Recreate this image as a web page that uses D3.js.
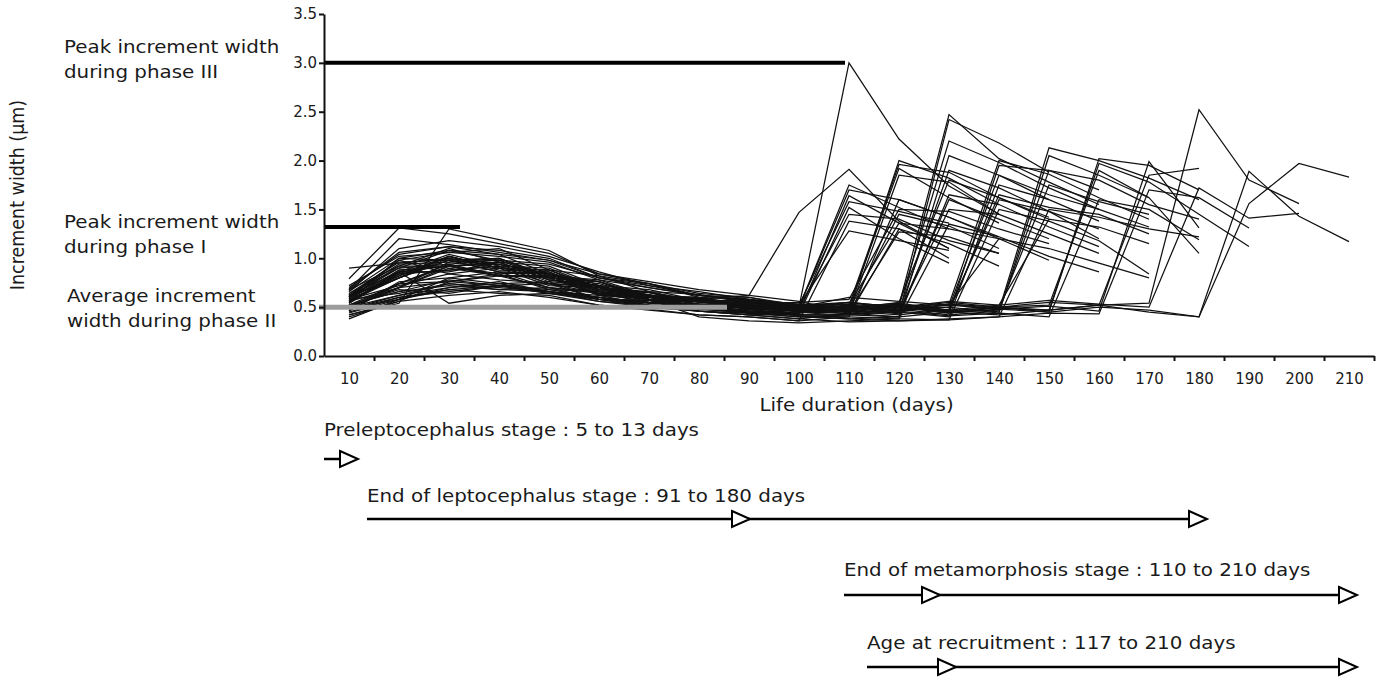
<!DOCTYPE html>
<html>
<head>
<meta charset="utf-8">
<script src="https://cdn.jsdelivr.net/npm/d3@7"></script>
<style>
  body { margin: 0; background: #fff; }
  svg { display: block; }
  text { font-family: "DejaVu Sans", Verdana, sans-serif; fill: #1a1a1a; }
</style>
</head>
<body>
<svg id="chart" width="1384" height="683"></svg>
<script>
// Age classes (days) used as category labels, and the band edges that carry tick marks
const dayLabels = [10, 20, 30, 40, 50, 60, 70, 80, 90, 100, 110, 120, 130, 140, 150, 160, 170, 180, 190, 200, 210];
const dayTicks = [15, 25, 35, 45, 55, 65, 75, 85, 95, 105, 115, 125, 135, 145, 155, 165, 175, 185, 195, 205, 215];
const widthTicks = [0, 0.5, 1.0, 1.5, 2.0, 2.5, 3.0, 3.5];

// Mean otolith increment width (µm) per 10-day class, one array per eel, starting at day 10
const fishSeries = [
  [0.62,0.80,1.02,0.90,0.84,0.66,0.62,0.52,0.55,0.50,3.00,2.22,1.74,1.45],
  [0.58,0.64,0.74,0.70,0.66,0.58,0.54,0.58,0.62,1.47,1.91,1.38,1.10],
  [0.50,0.70,0.96,0.98,0.80,0.76,0.58,0.57,0.48,0.50,1.75,1.52,1.30],
  [0.79,1.31,1.25,1.15,1.05,0.84,0.74,0.60,0.58,0.50,1.70,1.60,1.42,1.20],
  [0.45,0.60,0.66,0.72,0.64,0.56,0.50,0.46,0.42,0.44,1.64,1.36,1.10],
  [0.70,1.04,1.12,1.08,1.00,0.80,0.72,0.62,0.57,0.52,1.58,1.48,1.36],
  [0.55,0.86,0.92,0.84,0.86,0.64,0.60,0.49,0.50,0.43,1.52,1.20,0.95],
  [0.60,0.98,0.84,0.90,0.72,0.70,0.55,0.58,0.47,0.49,1.45,1.40,1.18,1.05],
  [0.48,0.58,0.68,0.64,0.62,0.52,0.48,0.42,0.40,0.36,1.38,1.30,1.00],
  [0.64,0.90,1.08,1.04,0.84,0.76,0.60,0.59,0.50,0.52,1.28,1.18,1.08],

  [0.56,0.80,0.98,0.86,0.84,0.68,0.65,0.52,0.54,0.48,0.46,2.00,1.82,1.55],
  [0.52,0.66,0.72,0.68,0.70,0.58,0.52,0.50,0.45,0.44,0.52,1.96,1.88,1.62,1.40],
  [0.66,1.10,1.18,1.12,1.02,0.86,0.72,0.66,0.58,0.53,0.44,1.85,1.78,1.45],
  [0.42,0.56,0.62,0.66,0.60,0.52,0.47,0.42,0.40,0.36,0.40,1.60,1.42,1.22],
  [0.72,1.02,1.06,1.10,0.88,0.82,0.66,0.63,0.54,0.55,0.58,1.50,1.48,1.30,1.15],
  [0.56,0.84,0.88,0.92,0.74,0.70,0.57,0.56,0.49,0.51,0.47,1.45,1.33,1.10],
  [0.60,0.82,1.02,0.90,0.88,0.68,0.65,0.55,0.55,0.49,0.53,1.36,1.30,1.20,0.98],
  [0.48,0.62,0.70,0.74,0.66,0.60,0.51,0.48,0.45,0.42,0.42,1.30,1.15,0.92],
  [0.42,0.54,1.30,1.19,1.08,0.82,0.74,0.62,0.60,0.52,0.50,1.92,1.62,1.36],
  [0.54,0.86,0.86,0.96,0.78,0.72,0.58,0.57,0.48,0.50,0.45,1.27,1.22,1.05],

  [0.60,0.92,0.92,0.96,0.78,0.72,0.60,0.58,0.50,0.51,0.47,0.52,2.47,2.02,1.78,1.55],
  [0.50,0.74,0.94,0.82,0.80,0.62,0.60,0.51,0.52,0.45,0.50,0.43,2.42,2.18,1.88],
  [0.68,1.20,1.14,1.06,0.98,0.84,0.76,0.68,0.62,0.56,0.45,0.51,2.20,1.98,1.72,1.50],
  [0.44,0.58,0.70,0.76,0.66,0.62,0.52,0.50,0.44,0.42,0.42,0.40,2.05,1.85,1.60],
  [0.58,0.80,0.98,0.86,0.84,0.66,0.62,0.53,0.53,0.46,0.52,0.46,1.90,1.72,1.48,1.30],
  [0.66,1.00,0.98,1.00,0.80,0.76,0.61,0.59,0.51,0.52,0.48,0.55,1.80,1.62,1.42],
  [0.38,0.58,0.80,0.74,0.76,0.58,0.57,0.48,0.48,0.41,0.38,0.40,1.65,1.55,1.32,1.12],
  [0.56,0.70,0.76,0.82,0.70,0.64,0.55,0.52,0.46,0.44,0.50,0.44,1.60,1.40,1.20],
  [0.62,0.86,0.54,0.62,0.64,0.60,0.55,0.52,0.49,0.47,0.46,0.45,1.50,1.45,1.25,1.05],
  [0.50,0.70,0.92,0.82,0.82,0.62,0.58,0.40,0.36,0.34,0.36,0.38,1.35,1.22,1.02,0.86],

  [0.60,0.82,1.02,0.90,0.88,0.68,0.65,0.55,0.55,0.48,0.50,0.46,0.53,2.00,1.86,1.62,1.40],
  [0.52,0.66,0.78,0.72,0.68,0.60,0.54,0.50,0.46,0.45,0.46,0.50,0.44,1.95,1.90,1.70],
  [0.68,0.92,1.10,0.96,0.92,0.72,0.68,0.57,0.57,0.50,0.55,0.48,0.50,1.85,1.65,1.50,1.32],
  [0.46,0.76,0.80,0.86,0.70,0.66,0.54,0.53,0.46,0.47,0.43,0.45,0.40,1.75,1.60,1.38],
  [0.62,0.98,1.06,1.02,0.96,0.78,0.70,0.62,0.56,0.47,0.50,0.53,0.46,1.65,1.52,1.45,1.25],
  [0.54,0.88,0.92,0.94,0.76,0.72,0.58,0.57,0.49,0.50,0.46,0.42,0.48,1.60,1.48,1.20],
  [0.40,0.56,0.76,0.72,0.74,0.58,0.57,0.48,0.48,0.41,0.40,0.38,0.37,1.50,1.38,1.18,0.84],
  [0.90,0.95,1.00,0.94,0.84,0.71,0.62,0.56,0.52,0.50,0.60,0.56,0.52,1.20,1.10,0.95,0.80],

  [0.58,0.72,0.84,0.78,0.74,0.64,0.58,0.50,0.50,0.46,0.48,0.51,0.45,0.47,2.13,2.00,1.82,1.60],
  [0.64,0.96,0.98,1.00,0.82,0.78,0.62,0.60,0.52,0.53,0.52,0.46,0.50,0.44,2.05,1.85,1.62],
  [0.50,0.62,0.74,0.68,0.66,0.56,0.52,0.46,0.42,0.38,0.44,0.48,0.42,0.46,1.90,1.80,1.55,1.40],
  [0.60,0.90,0.94,0.98,0.80,0.74,0.60,0.58,0.50,0.52,0.55,0.50,0.53,0.48,1.75,1.58,1.45],
  [0.46,0.74,0.76,0.84,0.68,0.66,0.58,0.46,0.42,0.38,0.35,0.36,0.38,0.40,1.50,1.42,1.30,1.22],
  [0.68,1.06,1.12,1.04,0.98,0.80,0.74,0.64,0.60,0.50,0.50,0.54,0.47,0.52,1.40,1.32,1.15],

  [0.58,0.88,0.92,0.96,0.78,0.72,0.58,0.57,0.50,0.51,0.48,0.52,0.46,0.50,0.45,2.02,1.95,1.70],
  [0.52,0.74,0.92,0.82,0.82,0.64,0.62,0.50,0.52,0.45,0.44,0.40,0.45,0.42,0.47,1.97,1.78,1.45,1.12],
  [0.62,0.94,0.96,1.00,0.82,0.76,0.61,0.60,0.51,0.52,0.53,0.49,0.55,0.50,0.52,1.90,1.62,1.05],
  [0.48,0.60,0.68,0.72,0.64,0.58,0.50,0.46,0.44,0.40,0.42,0.46,0.41,0.44,0.40,1.60,1.50,1.19],

  [0.60,0.84,1.02,0.90,0.88,0.70,0.65,0.55,0.56,0.49,0.50,0.47,0.52,0.48,0.51,0.46,1.99,1.31],
  [0.54,0.84,0.88,0.92,0.74,0.72,0.57,0.56,0.48,0.50,0.46,0.50,0.45,0.49,0.47,0.52,1.85,1.92],
  [0.50,0.70,0.90,0.82,0.82,0.63,0.62,0.48,0.44,0.40,0.38,0.36,0.37,0.40,0.44,0.43,1.70,1.62,1.31],

  [0.56,1.00,1.08,0.98,0.94,0.80,0.70,0.62,0.58,0.50,0.48,0.52,0.46,0.50,0.47,0.52,0.54,2.52,1.80,1.56],
  [0.62,0.86,1.04,0.92,0.90,0.70,0.66,0.56,0.57,0.49,0.55,0.50,0.56,0.52,0.57,0.53,0.50,1.72,1.41,1.46],

  [0.52,0.68,0.64,0.72,0.66,0.60,0.52,0.50,0.44,0.42,0.46,0.50,0.44,0.48,0.45,0.50,0.47,0.40,1.89,1.43,1.17],
  [0.58,0.80,1.00,0.88,0.86,0.67,0.63,0.53,0.54,0.47,0.52,0.47,0.53,0.50,0.55,0.52,0.45,0.40,1.56,1.97,1.83]
];

// Reference levels: value (µm), extent (days) and their labels
const refValues = [3.0, 1.32, 0.5];
const refEnds = [109.2, 32.2, 85.6];
const refColors = ["#000", "#000", "#9c9c9c"];
const refLabels = [
  ["Peak increment width", "during phase III"],
  ["Peak increment width", "during phase I"],
  ["Average increment", "width during phase II"]
];

// Life-history stages: label, arrow start (days) and arrowhead positions (days)
const stageLabels = [
  "Preleptocephalus stage : 5 to 13 days",
  "End of leptocephalus stage : 91 to 180 days",
  "End of metamorphosis stage : 110 to 210 days",
  "Age at recruitment : 117 to 210 days"
];
const stageStarts = [5, 13.6, 109, 113.6];
const stageHeads = [[11.8], [90.2, 181.6], [128.2, 211.6], [131.4, 211.6]];

const svg = d3.select("#chart");
const x = d3.scaleLinear().domain([5, 215]).range([324, 1374]);
const y = d3.scaleLinear().domain([0, 3.5]).range([356, 14]);

// Text in this figure is set slightly wide
const WIDE = 1.135;
function wideText(parent, px, py, size) {
  return parent.append("text")
    .attr("transform", `translate(${px},${py}) scale(${WIDE},1)`)
    .style("font-size", size + "px");
}

// Individual growth trajectories
const line = d3.line()
  .x((d, i) => x(dayLabels[i]))
  .y(d => y(d));

svg.append("g")
  .selectAll("path")
  .data(fishSeries)
  .join("path")
  .attr("d", line)
  .attr("fill", "none")
  .attr("stroke", "#111")
  .attr("stroke-width", 1.25)
  .attr("stroke-linejoin", "miter");

// Reference bars drawn over the trajectories
svg.append("g")
  .selectAll("line")
  .data(refValues)
  .join("line")
  .attr("x1", (d, i) => x(5) - (i === 2 ? 5 : 0))
  .attr("x2", (d, i) => x(refEnds[i]))
  .attr("y1", d => y(d))
  .attr("y2", d => y(d))
  .attr("stroke", (d, i) => refColors[i])
  .attr("stroke-width", (d, i) => i === 2 ? 5 : 4);

// Axes
const yAxis = svg.append("g")
  .attr("transform", `translate(${x(5)},0)`)
  .call(d3.axisLeft(y).tickValues(widthTicks).tickFormat(d3.format(".1f")).tickSize(5).tickPadding(2).tickSizeOuter(0));
yAxis.selectAll("text").style("font-size", "15px");

svg.append("g")
  .attr("transform", `translate(0,${y(0)})`)
  .call(d3.axisBottom(x).tickValues(dayTicks).tickFormat("").tickSize(5).tickSizeOuter(0));

const xLabels = svg.append("g")
  .attr("transform", `translate(0,${y(0)})`)
  .call(d3.axisBottom(x).tickValues(dayLabels).tickSize(0).tickPadding(17));
xLabels.select(".domain").remove();
xLabels.selectAll("text").style("font-size", "15px");

svg.selectAll(".domain").attr("stroke", "#111").attr("stroke-width", 2);
svg.selectAll(".tick line").attr("stroke", "#111").attr("stroke-width", 2);
svg.selectAll(".tick text").attr("fill", "#1a1a1a");

// Axis titles
svg.append("text")
  .attr("transform", `translate(24,${(y(0) + y(3.5)) / 2 + 10}) rotate(-90) scale(1,${WIDE})`)
  .attr("text-anchor", "middle")
  .style("font-size", "17.5px")
  .text("Increment width (µm)");

wideText(svg, x(111.5), 411, 17.5)
  .attr("text-anchor", "middle")
  .text("Life duration (days)");

// Labels for the reference bars
const labelX = [64, 64, 67];
const labelY = [53, 228, 302];
refLabels.forEach((lines, i) => {
  const t = wideText(svg, labelX[i], labelY[i], 17.5);
  lines.forEach((s, j) => {
    t.append("tspan").attr("x", 0).attr("dy", j === 0 ? 0 : 25).text(s);
  });
});

// Stage arrows
const textRowY = [436, 502, 576, 649];
const arrowRowY = [459, 519, 595, 667];
const headLen = 18, headHalf = 8;

stageLabels.forEach((label, i) => {
  const g = svg.append("g");
  wideText(g, x(stageStarts[i]), textRowY[i], 17.5).text(label);
  const heads = stageHeads[i];
  const yy = arrowRowY[i];
  g.append("line")
    .attr("x1", x(stageStarts[i]))
    .attr("x2", x(heads[heads.length - 1]) - headLen)
    .attr("y1", yy).attr("y2", yy)
    .attr("stroke", "#000")
    .attr("stroke-width", 2.5);
  g.selectAll("path")
    .data(heads)
    .join("path")
    .attr("d", d => {
      const tip = x(d);
      return `M${tip - headLen},${yy - headHalf}L${tip},${yy}L${tip - headLen},${yy + headHalf}Z`;
    })
    .attr("fill", "#fff")
    .attr("stroke", "#000")
    .attr("stroke-width", 2)
    .attr("stroke-linejoin", "miter");
});
</script>
</body>
</html>
